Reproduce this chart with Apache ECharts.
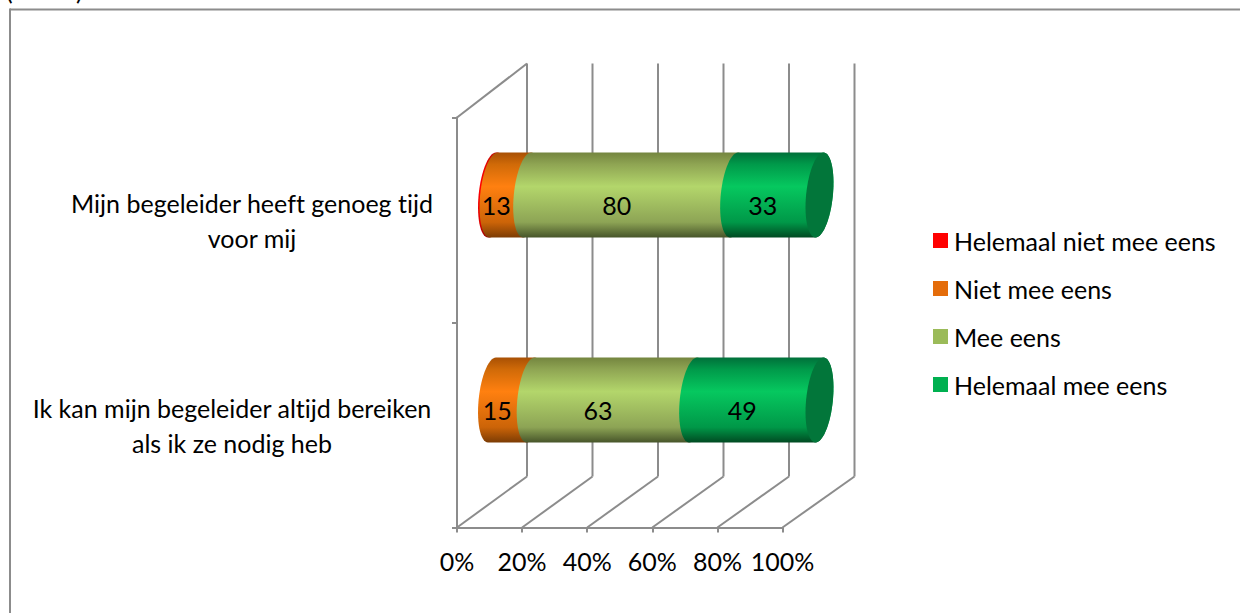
<!DOCTYPE html>
<html>
<head>
<meta charset="utf-8">
<style>
html,body{margin:0;padding:0;background:#fff}
#chart{width:1240px;height:613px}
#chart text{font-variant-ligatures:none !important;font-feature-settings:"liga" 0 !important}
</style>
<script src="https://cdn.jsdelivr.net/npm/echarts@6/dist/echarts.min.js"></script>
</head>
<body>
<div id="chart"></div>
<script>
// Survey answers per statement, bottom row first
const categories = [
  'Ik kan mijn begeleider altijd bereiken\nals ik ze nodig heb',
  'Mijn begeleider heeft genoeg tijd\nvoor mij'
];
const helemaalNiet = [0, 0.6];
const niet = [15, 13];
const mee = [63, 80];
const helemaalMee = [49, 33];
const percentTicks = [0, 20, 40, 60, 80, 100];

const FONT = 'Lato, Carlito, sans-serif';
const FONT_SIZE = 25;
const LINE = '#8c8c8c';

// Half of the box depth: the cylinders sit midway between front and back wall
const MID_DX = 35, MID_DY = -25;
const RADIUS_X = 13.4, RADIUS_Y = 42.5, SHEAR = 4;

const answerSeries = [
  { name: 'Helemaal niet mee eens', values: helemaalNiet, legend: '#ff0000',
    stops: ['#c00000', '#e80000', '#ff0000', '#e00000', '#a00000'] },
  { name: 'Niet mee eens', values: niet, legend: '#e46c0a',
    stops: ['#a85004', '#d06a08', '#ff8010', '#cc6408', '#7c3c04'] },
  { name: 'Mee eens', values: mee, legend: '#9bbb59',
    stops: ['#74853f', '#8fa553', '#b3d66b', '#8da455', '#47552a'] },
  { name: 'Helemaal mee eens', values: helemaalMee, legend: '#00b050',
    stops: ['#00703a', '#009a4a', '#06c85f', '#009848', '#004a22'] }
];

const totals = categories.map((_, i) =>
  answerSeries.reduce((sum, s) => sum + s.values[i], 0));

function midX(x, pct) {
  return x + MID_DX + pct * 0.02;
}

function halfEllipse(cx, cy, fromDeg, toDeg) {
  const pts = [];
  for (let d = fromDeg; d <= toDeg; d += 6) {
    const t = d * Math.PI / 180;
    pts.push([cx + RADIUS_X * Math.cos(t) + SHEAR * Math.sin(t), cy - RADIUS_Y * Math.sin(t)]);
  }
  return pts;
}

// One stacked piece of a cylinder with its left rim curving outward
function cylinderRenderer(stops) {
  const fill = new echarts.graphic.LinearGradient(0, 0, 0, 1, [
    { offset: 0, color: stops[0] },
    { offset: 0.14, color: stops[1] },
    { offset: 0.4, color: stops[2] },
    { offset: 0.82, color: stops[3] },
    { offset: 1, color: stops[4] }
  ]);
  return function (params, api) {
    const from = api.value(0), to = api.value(1), raw = api.value(3);
    if (!raw) return null;
    const a = api.coord([from, api.value(2)]);
    const b = api.coord([to, api.value(2)]);
    const cy = a[1] + MID_DY;
    const pts = halfEllipse(midX(a[0], from), cy, 90, 270)
      .concat(halfEllipse(midX(b[0], to), cy, 270, 450));
    const children = [{ type: 'polygon', shape: { points: pts }, style: { fill: fill, stroke: null } }];
    if (raw >= 1) {
      children.push({
        type: 'text', z2: 100,
        style: {
          x: (midX(a[0], from) + midX(b[0], to)) / 2 - 14, y: cy + 10,
          text: String(raw), fill: '#000', font: FONT_SIZE + 'px ' + FONT,
          align: 'center', verticalAlign: 'middle'
        }
      });
    }
    return { type: 'group', children: children };
  };
}

// Running start and end percentage of each answer inside its row
const running = categories.map(() => 0);
const barSeries = answerSeries.map(s => {
  const data = s.values.map((v, i) => {
    const start = running[i];
    running[i] += v / totals[i] * 100;
    return [start, running[i], i, v];
  });
  return {
    name: s.name, type: 'custom', coordinateSystem: 'cartesian2d', z: 5,
    itemStyle: { color: s.legend }, encode: { x: [0, 1], y: 2 },
    renderItem: cylinderRenderer(s.stops), data: data, silent: true
  };
});

// Flat dark end face of each cylinder
const capSeries = {
  name: 'Eindvlak', type: 'custom', coordinateSystem: 'cartesian2d', z: 6, silent: true,
  encode: { x: 0, y: 1 },
  data: categories.map((_, i) => [100, i]),
  renderItem: function (params, api) {
    const c = api.coord([api.value(0), api.value(1)]);
    return {
      type: 'polygon',
      shape: { points: halfEllipse(midX(c[0], 100), c[1] + MID_DY, 90, 444) },
      style: { fill: '#02763a' }
    };
  }
};

// Floor and back wall lines of the 3D box
const wallSeries = {
  name: 'Wanden', type: 'custom', coordinateSystem: 'cartesian2d', z: 1, silent: true,
  encode: { x: 0 },
  data: percentTicks.map(p => [p]),
  renderItem: function (params, api) {
    const p = api.value(0);
    const g = params.coordSys;
    const x = api.coord([p, 0])[0];
    const backX = x + 70 + p * 0.02;
    const top = g.y, bottom = g.y + g.height;
    const line = { stroke: LINE, lineWidth: 2, fill: null };
    const children = [
      { type: 'line', shape: { x1: backX, y1: top - 54, x2: backX, y2: bottom - 51 }, style: line },
      { type: 'line', shape: { x1: x, y1: bottom, x2: backX, y2: bottom - 51 }, style: line }
    ];
    if (p === 0) {
      children.push({ type: 'line', shape: { x1: x, y1: top, x2: backX, y2: top - 54 }, style: line });
    }
    return { type: 'group', children: children };
  }
};

// The longer statement is pushed left so both blocks end at the same right edge
const categoryItems = categories.map((name, i) => ({
  value: name,
  textStyle: { align: 'center', padding: i === 0 ? [14, 40, 0, 0] : [14, 0, 0, 0] }
}));

const chart = echarts.init(document.getElementById('chart'), null, { renderer: 'svg' });
chart.setOption({
  animation: false,
  backgroundColor: '#ffffff',
  textStyle: { fontFamily: FONT },
  graphic: [
    { type: 'line', shape: { x1: 10, y1: 9.5, x2: 1240, y2: 9.5 }, style: { stroke: LINE, lineWidth: 2 } },
    { type: 'line', shape: { x1: 10, y1: 8.5, x2: 10, y2: 613 }, style: { stroke: LINE, lineWidth: 2 } },
    { type: 'text', x: 6, y: -23, style: { text: '(', fill: '#000', font: FONT_SIZE + 'px ' + FONT } },
    { type: 'text', x: 76, y: -23, style: { text: ')', fill: '#000', font: FONT_SIZE + 'px ' + FONT } }
  ],
  grid: { left: 457, right: 457.5, top: 117.5, bottom: 85.5, containLabel: false, outerBoundsMode: 'none' },
  legend: {
    data: answerSeries.map(s => s.name),
    orient: 'vertical', left: 933, top: 228, padding: 0,
    icon: 'rect', itemWidth: 15, itemHeight: 15, itemGap: 23,
    selectedMode: false,
    textStyle: { fontFamily: FONT, fontSize: FONT_SIZE, color: '#000', padding: [0, 0, 3, 1] }
  },
  xAxis: {
    type: 'value', min: 0, max: 100, interval: 20,
    splitLine: { show: false },
    axisLine: { show: true, lineStyle: { color: LINE, width: 2 } },
    axisTick: { show: true, length: 5, lineStyle: { color: LINE, width: 2 } },
    axisLabel: { formatter: '{value}%', margin: 21, fontFamily: FONT, fontSize: FONT_SIZE, color: '#000' }
  },
  yAxis: {
    type: 'category', data: categoryItems,
    axisLine: { show: true, lineStyle: { color: LINE, width: 2 } },
    axisTick: { show: true, length: 5, lineStyle: { color: LINE, width: 2 } },
    axisLabel: {
      margin: 205, align: 'center', fontFamily: FONT, fontSize: FONT_SIZE,
      color: '#000', lineHeight: 35
    }
  },
  series: [wallSeries].concat(barSeries, [capSeries])
});
</script>
</body>
</html>
